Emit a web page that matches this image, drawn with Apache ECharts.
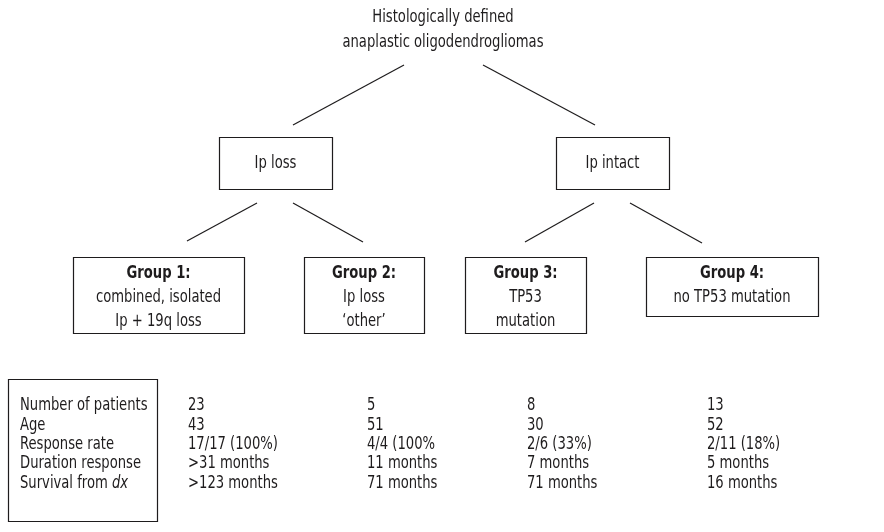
<!DOCTYPE html>
<html><head><meta charset="utf-8">
<script src="https://cdn.jsdelivr.net/npm/echarts@6/dist/echarts.min.js"></script>
<style>html,body{margin:0;padding:0;background:#fff}#main{width:884px;height:532px}</style>
</head><body><div id="main"></div>
<script>
// ---------------- data ----------------
const rootLabel = ['Histologically defined', 'anaplastic oligodendrogliomas'];
const branchLabels = ['Ip loss', 'Ip intact'];
const groupTitles = ['Group 1:', 'Group 2:', 'Group 3:', 'Group 4:'];
const groupDescriptions = [
  ['combined, isolated', 'Ip + 19q loss'],
  ['Ip loss', '\u2018other\u2019'],
  ['TP53', 'mutation'],
  ['no TP53 mutation']
];
const groupBranch = [0, 0, 1, 1];
const rowLabels = ['Number of patients', 'Age', 'Response rate', 'Duration response', 'Survival from {i|dx}'];
const group1Values = ['23', '43', '17/17 (100%)', '>31 months', '>123 months'];
const group2Values = ['5', '51', '4/4 (100%', '11 months', '71 months'];
const group3Values = ['8', '30', '2/6 (33%)', '7 months', '71 months'];
const group4Values = ['13', '52', '2/11 (18%)', '5 months', '16 months'];
const groupValues = [group1Values, group2Values, group3Values, group4Values];

// ---------------- layout (axis units) ----------------
const FONT = "'Liberation Sans Narrow','DejaVu Sans Condensed','Roboto Condensed',Roboto,'Open Sans',sans-serif";
const FS = 17;
const SX = 0.86;
const INK = '#1e1c1d';
const layout = {
  rootX: 443, rootY: [18, 43],
  rootEdges: [[[404, 65], [293, 125]], [[483, 65], [595, 125]]],
  branchBoxes: [[219, 137, 332, 189], [556, 137, 669, 189]],
  branchEdges: [[[257, 203], [187, 241]], [[293, 203], [363, 242]], [[594, 203], [525, 242]], [[630, 203], [702, 243]]],
  groupBoxes: [[73, 257, 244, 333], [304, 257, 424, 333], [465, 257, 586, 333], [646, 257, 818, 316]],
  groupLineY0: 274, groupLineStep: 24,
  tableBox: [8, 379, 157, 521],
  tableLabelX: 20, tableRowY0: 406, tableRowStep: 19.3,
  tableColX: [188, 367, 527, 707]
};

// ---------------- build elements ----------------
const els = [];
rootLabel.forEach((t, i) => els.push({kind: 'text', x: layout.rootX, y: layout.rootY[i], text: t, align: 'center'}));
layout.rootEdges.forEach(e => els.push({kind: 'line', pts: e}));
branchLabels.forEach((t, i) => {
  const b = layout.branchBoxes[i];
  els.push({kind: 'rect', b: b});
  els.push({kind: 'text', x: (b[0] + b[2]) / 2, y: (b[1] + b[3]) / 2 + 1, text: t, align: 'center'});
});
groupBranch.forEach((p, i) => els.push({kind: 'line', pts: layout.branchEdges[i]}));
groupTitles.forEach((t, i) => {
  const b = layout.groupBoxes[i];
  const cx = (b[0] + b[2]) / 2;
  els.push({kind: 'rect', b: b});
  els.push({kind: 'text', x: cx, y: layout.groupLineY0, text: t, align: 'center', bold: true});
  groupDescriptions[i].forEach((d, j) => els.push({kind: 'text', x: cx, y: layout.groupLineY0 + (j + 1) * layout.groupLineStep, text: d, align: 'center'}));
});
els.push({kind: 'rect', b: layout.tableBox});
rowLabels.forEach((t, r) => els.push({kind: 'text', x: layout.tableLabelX, y: layout.tableRowY0 + r * layout.tableRowStep, text: t, align: 'left'}));
groupValues.forEach((vals, c) => vals.forEach((v, r) =>
  els.push({kind: 'text', x: layout.tableColX[c], y: layout.tableRowY0 + r * layout.tableRowStep, text: v, align: 'left'})));

function anchor(e) {
  if (e.kind === 'rect') return [e.b[0], e.b[1]];
  if (e.kind === 'line') return e.pts[0];
  return [e.x, e.y];
}

function renderItem(params, api) {
  const e = els[params.dataIndex];
  if (e.kind === 'rect') {
    const p1 = api.coord([e.b[0], e.b[1]]), p2 = api.coord([e.b[2], e.b[3]]);
    return {type: 'rect', shape: {x: Math.round(p1[0]) + 0.5, y: Math.round(p1[1]) + 0.5, width: Math.round(p2[0] - p1[0]), height: Math.round(p2[1] - p1[1])},
      style: {fill: 'none', stroke: INK, lineWidth: 1.2}};
  }
  if (e.kind === 'line') {
    const p1 = api.coord(e.pts[0]), p2 = api.coord(e.pts[1]);
    return {type: 'line', shape: {x1: p1[0], y1: p1[1], x2: p2[0], y2: p2[1]}, style: {stroke: INK, lineWidth: 1.2}};
  }
  const p = api.coord([e.x, e.y]);
  return {type: 'text', x: p[0], y: p[1], scaleX: SX, style: {
    text: e.text, fill: INK, fontFamily: FONT, fontSize: FS, fontWeight: e.bold ? 'bold' : 'normal',
    align: e.align, verticalAlign: 'middle',
    rich: {i: {fontStyle: 'italic', fontFamily: FONT, fontSize: FS, fill: INK}}
  }};
}

const chart = echarts.init(document.getElementById('main'), null, {renderer: 'canvas'});
chart.setOption({
  animation: false,
  backgroundColor: '#fff',
  grid: {left: 0, right: 0, top: 0, bottom: 0},
  xAxis: {type: 'value', min: 0, max: 884, show: false},
  yAxis: {type: 'value', min: 0, max: 532, inverse: true, show: false},
  series: [{
    type: 'custom', clip: false, silent: true,
    renderItem: renderItem,
    data: els.map(anchor)
  }]
});
</script></body></html>
